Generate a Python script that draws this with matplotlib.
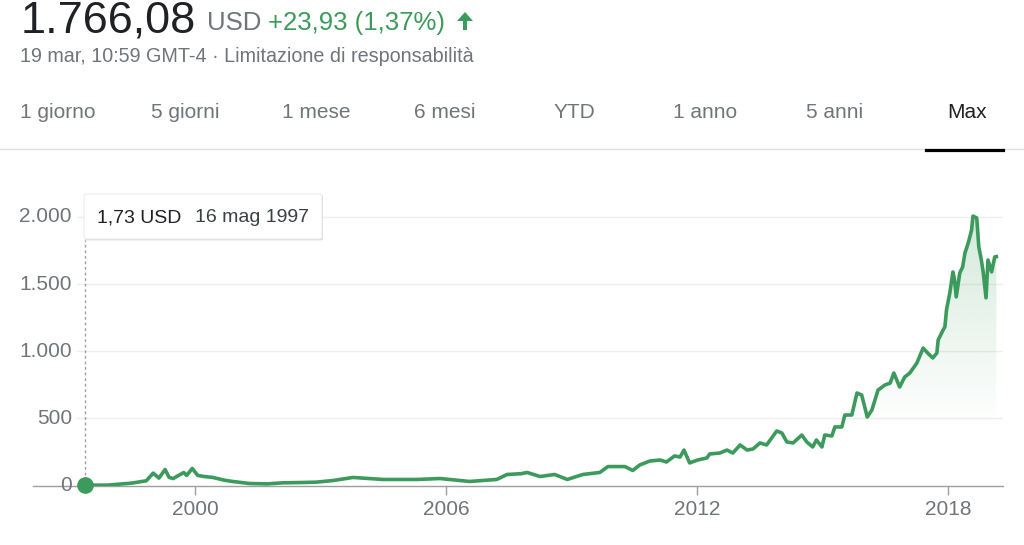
import matplotlib
matplotlib.use("Agg")
import matplotlib.pyplot as plt
import matplotlib.dates as mdates
from matplotlib.patches import FancyBboxPatch, Polygon
from matplotlib.lines import Line2D
import numpy as np
import pandas as pd

plt.rcParams['font.family'] = ['Liberation Sans', 'DejaVu Sans']

# price readings (USD) taken off the chart
dates = ["1997-05-16", "1997-12-01", "1998-06-30", "1998-11-01", "1999-01-01", "1999-02-20",
         "1999-04-15", "1999-05-20", "1999-06-25", "1999-08-10", "1999-09-25", "1999-10-20",
         "1999-12-08", "2000-01-25", "2000-03-20", "2000-06-05", "2000-09-10", "2000-11-25",
         "2001-04-20", "2001-09-20", "2002-02-05", "2002-07-10", "2002-11-25", "2003-04-20",
         "2003-10-12", "2004-07-01", "2005-04-20", "2005-11-10", "2006-07-26", "2007-03-20",
         "2007-06-18", "2007-10-20", "2007-12-10", "2008-04-01", "2008-08-07", "2008-11-25",
         "2009-04-10", "2009-09-05", "2009-11-15", "2010-04-12", "2010-06-20", "2010-08-20",
         "2010-11-15", "2011-02-14", "2011-04-10", "2011-06-20", "2011-08-07", "2011-09-10",
         "2011-10-30", "2012-01-08", "2012-03-28", "2012-04-22", "2012-07-20", "2012-09-20",
         "2012-11-10", "2013-01-12", "2013-03-15", "2013-05-05", "2013-07-05", "2013-09-01",
         "2013-10-15", "2013-11-28", "2014-01-12", "2014-02-25", "2014-04-20", "2014-07-05",
         "2014-08-18", "2014-10-08", "2014-11-10", "2014-12-28", "2015-01-22", "2015-03-25",
         "2015-04-20", "2015-06-20", "2015-07-16", "2015-09-15", "2015-10-30", "2015-12-10",
         "2016-01-28", "2016-03-08", "2016-05-01", "2016-07-01", "2016-08-15", "2016-09-16",
         "2016-11-06", "2016-12-20", "2017-02-02", "2017-04-05", "2017-05-30", "2017-07-08",
         "2017-08-22", "2017-09-27", "2017-10-08", "2017-11-20", "2017-12-06", "2017-12-20",
         "2018-01-18", "2018-02-14", "2018-02-28", "2018-03-15", "2018-04-15", "2018-05-10",
         "2018-05-30", "2018-06-28", "2018-07-27", "2018-08-08", "2018-09-10", "2018-09-28",
         "2018-10-20", "2018-11-05", "2018-11-30", "2018-12-17", "2019-01-18", "2019-02-14",
         "2019-02-28"]
prices = [1.73, 3, 18, 35, 92, 55,
          119, 60, 52, 75, 97, 75,
          127, 75, 67, 60, 40, 30,
          15, 12, 20, 22, 25, 37,
          60, 45, 45, 52, 30, 45,
          82, 88, 97, 67, 82, 45,
          82, 97, 141, 141, 112, 153,
          182, 190, 175, 220, 212, 264,
          168, 190, 205, 235, 242, 264,
          242, 302, 264, 272, 317, 302,
          354, 406, 391, 324, 317, 376,
          324, 287, 339, 287, 376, 369,
          436, 436, 525, 525, 689, 674,
          510, 562, 711, 749, 763, 838,
          734, 808, 838, 912, 1024, 987,
          950, 987, 1084, 1158, 1182, 1309,
          1435, 1591, 1532, 1405, 1584, 1628,
          1732, 1807, 1903, 2007, 1993, 1777,
          1680, 1591, 1398, 1680, 1591, 1703,
          1705]

y_ticks = [0, 500, 1000, 1500, 2000]
y_labels = ["0", "500", "1.000", "1.500", "2.000"]
x_ticks = ["2000-01-01", "2006-01-01", "2012-01-01", "2018-01-01"]
x_labels = ["2000", "2006", "2012", "2018"]
tabs = ["1 giorno", "5 giorni", "1 mese", "6 mesi", "YTD", "1 anno", "5 anni", "Max"]

GREEN = '#3c9b5c'
GREY = '#70757a'
DARK = '#202124'

W, H = 1024, 545
fig = plt.figure(figsize=(W / 100, H / 100), dpi=100)
fig.patch.set_facecolor('white')


def fx(x):
    return x / W


def fy(y):
    return 1 - y / H


# header
fig.text(fx(21), fy(32), "1.766,08", fontsize=32.5, color=DARK, va='baseline')
fig.text(fx(207), fy(30), "USD", fontsize=18.5, color=GREY, va='baseline')
fig.text(fx(268), fy(30), "+23,93 (1,37%)", fontsize=18.5, color=GREEN, va='baseline')
arrow = [(465, 12), (457, 21), (463, 21), (463, 30), (467, 30), (467, 21), (473, 21)]
fig.patches.append(Polygon([(fx(a), fy(b)) for a, b in arrow], closed=True,
                           facecolor=GREEN, edgecolor='none', transform=fig.transFigure))
fig.text(fx(20), fy(62), "19 mar, 10:59 GMT-4 · Limitazione di responsabilità",
         fontsize=14.2, color=GREY, va='baseline')

tab_x = [20, 151, 282, 414, 554, 673, 806, 947]
for t, x in zip(tabs, tab_x):
    fig.text(fx(x), fy(118), t, fontsize=15, va='baseline',
             color=DARK if t == "Max" else GREY)
fig.lines.append(Line2D([0, 1], [fy(148.5), fy(148.5)], color='#e0e0e0', lw=1,
                        transform=fig.transFigure))
fig.lines.append(Line2D([fx(926), fx(1003)], [fy(150), fy(150)], color='black', lw=2.3,
                        transform=fig.transFigure))

# chart area
base_y, top_y = 485.5, 180
px_per_unit = (base_y - 217) / 2000
ymax = (base_y - top_y) / px_per_unit
ax = fig.add_axes([fx(33), 1 - base_y / H, 970 / W, (base_y - top_y) / H])
ax.set_facecolor('none')

t = mdates.date2num(pd.to_datetime(dates))
v = np.array(prices, dtype=float)

d2000 = mdates.date2num(pd.Timestamp("2000-01-01"))
px_per_day = 251 / (mdates.date2num(pd.Timestamp("2006-01-01")) - d2000)
x0 = d2000 - 162 / px_per_day
x1 = d2000 + 808 / px_per_day

# gradient under the line
poly = ax.fill_between(t, v, 0, facecolor='none', edgecolor='none')
levels = np.linspace(0, ymax, 300)
grad = np.zeros((300, 1, 4))
grad[:, 0, 0:3] = matplotlib.colors.to_rgb(GREEN)
grad[:, 0, 3] = np.clip((levels - 450) / 1550, 0, 1) * 0.22
im = ax.imshow(grad, extent=[x0, x1, 0, ymax], aspect='auto', origin='lower',
               interpolation='bilinear', zorder=1)
im.set_clip_path(poly.get_paths()[0], transform=ax.transData)

for yt in y_ticks[1:]:
    ax.axhline(yt, xmin=44 / 970, xmax=1, color='#eeeeee', lw=1, zorder=0)
for yt, lab in zip(y_ticks, y_labels):
    ax.text(39 / 970, yt, lab, transform=ax.get_yaxis_transform(), ha='right',
            va='center', fontsize=15, color=GREY)

ax.plot(t, v, color=GREEN, lw=2.6, solid_joinstyle='round', zorder=3)
ax.plot([t[0]], [v[0]], 'o', color=GREEN, ms=11, clip_on=False, zorder=4)
ax.vlines(t[0], 0, (base_y - 240) / px_per_unit, colors='#9aa0a6', lw=1,
          linestyles=(0, (2, 2)), zorder=2)

ax.set_xlim(x0, x1)
ax.set_ylim(0, ymax)
ax.set_yticks([])
ax.set_xticks(mdates.date2num(pd.to_datetime(x_ticks)))
ax.set_xticklabels(x_labels)
ax.tick_params(axis='x', length=6.5, width=1, color='#9e9e9e', labelcolor=GREY,
               labelsize=15, pad=4)
for s in ['top', 'right', 'left']:
    ax.spines[s].set_visible(False)
ax.spines['bottom'].set_color('#9e9e9e')
ax.spines['bottom'].set_linewidth(1)

# tooltip
shadow = FancyBboxPatch((fx(85), fy(240.5)), fx(238), 46 / H,
                        boxstyle="round,pad=0,rounding_size=0.003",
                        facecolor='#000000', alpha=0.12, edgecolor='none',
                        transform=fig.transFigure)
box = FancyBboxPatch((fx(84), fy(239)), fx(238), 45 / H,
                     boxstyle="round,pad=0,rounding_size=0.003",
                     facecolor='white', edgecolor='#e6e6e6', lw=0.6,
                     transform=fig.transFigure)
fig.patches.extend([shadow, box])
fig.text(fx(97), fy(222.5), "1,73 USD", fontsize=14, color=DARK, va='baseline')
fig.text(fx(195), fy(222.5), "16 mag 1997", fontsize=14, color='#3c4043', va='baseline')

fig.savefig("out.png", dpi=100, facecolor='white')
